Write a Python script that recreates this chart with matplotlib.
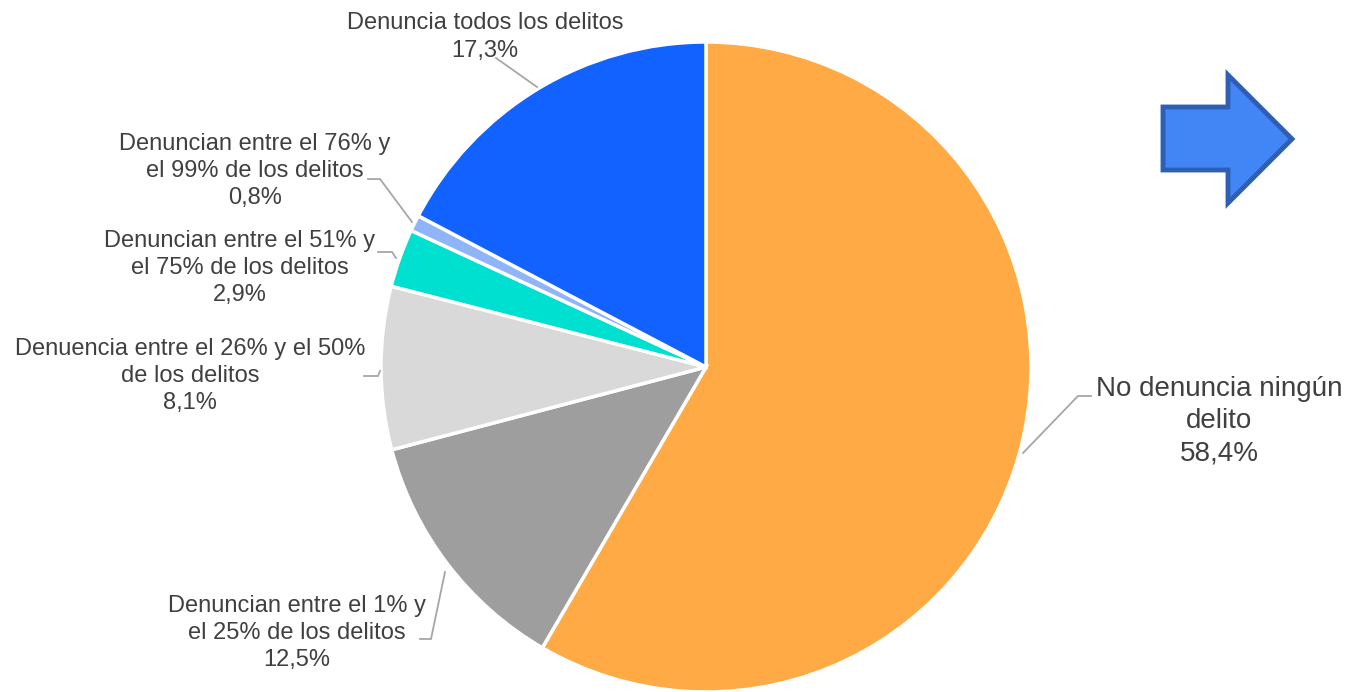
import numpy as np
import matplotlib.pyplot as plt
from matplotlib.patches import Polygon

plt.rcParams['font.family'] = ['Liberation Sans', 'DejaVu Sans']

labels = ['No denuncia ningún\ndelito',
          'Denuncian entre el 1% y\nel 25% de los delitos',
          'Denuencia entre el 26% y el 50%\nde los delitos',
          'Denuncian entre el 51% y\nel 75% de los delitos',
          'Denuncian entre el 76% y\nel 99% de los delitos',
          'Denuncia todos los delitos']
values = [58.4, 12.5, 8.1, 2.9, 0.8, 17.3]
colors = ['#FFAA44', '#9E9E9E', '#D9D9D9', '#00E0D0', '#8FB4F8', '#1262FF']

W, H = 1347, 692

fig = plt.figure(figsize=(W / 100, H / 100), dpi=100)
ax = fig.add_axes([0, 0, 1, 1])


def py(y):
    return H - y


cx, cy, r = 706, py(367), 325
ax.pie(values, colors=colors, startangle=90, counterclock=False,
       center=(cx, cy), radius=r, frame=True,
       wedgeprops=dict(edgecolor='white', linewidth=2.5))
ax.set_xlim(0, W)
ax.set_ylim(0, H)
ax.set_aspect('equal')
ax.axis('off')

# label block centres and leader paths, in pixels from top-left
txt_pos = [(1219, 421), (297, 633), (190, 376), (240, 268), (255, 171), (485, 37)]
leaders = [
    [(1091, 396), (1078, 396), (1023, 453)],
    [(420, 639), (431, 639), (445, 572)],
    [(364, 376), (378, 376), (380, 371)],
    [(378, 252), (392, 252), (396, 258)],
    [(368, 179), (380, 179), (412, 222)],
    [(496, 58), (537, 87)],
]
text_c = '#404040'
for i, (lab, v) in enumerate(zip(labels, values)):
    s = f'{lab}\n{v:.1f}%'.replace('.', ',')
    fs = 20 if i == 0 else 17
    x, y = txt_pos[i]
    ax.text(x, py(y), s, ha='center', va='center', fontsize=fs, color=text_c,
            linespacing=1.31, multialignment='center')
    pts = np.array(leaders[i], dtype=float)
    ax.plot(pts[:, 0], H - pts[:, 1], color='#A6A6A6', lw=1.3,
            solid_joinstyle='miter')

arrow = [(1163, 107), (1228, 107), (1228, 75), (1292, 139), (1228, 203),
         (1228, 170), (1163, 170)]
ax.add_patch(Polygon([(x, py(y)) for x, y in arrow], closed=True,
                     facecolor='#4285F4', edgecolor='#2E5FB5', lw=3.5,
                     joinstyle='miter'))

fig.savefig('out.png', dpi=100, facecolor='white')
